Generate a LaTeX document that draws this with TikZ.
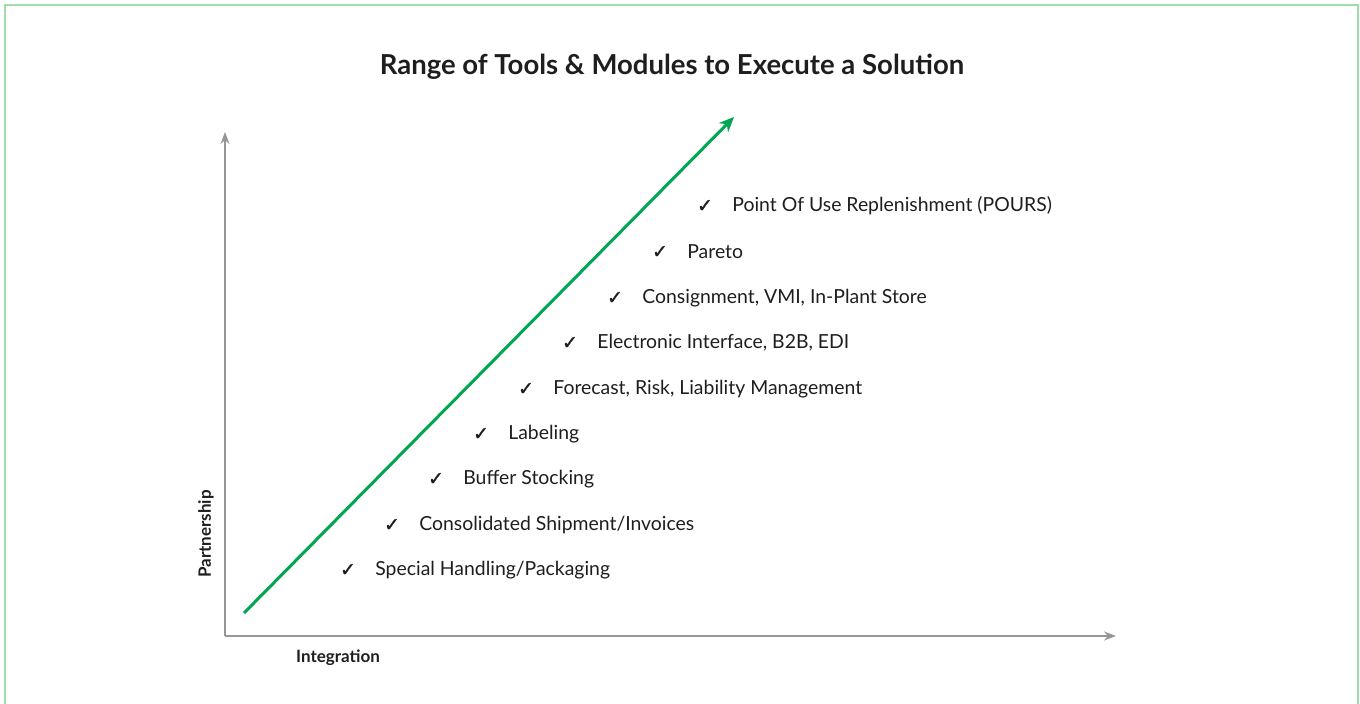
\documentclass[tikz,border=0pt]{standalone}
\usepackage{fontspec}
\setmainfont{Lato}
\newfontfamily\symbolfont[FakeBold=1.2]{DejaVu Sans}
\usepackage{tikz}
\usetikzlibrary{arrows.meta, positioning}
\definecolor{framegreen}{RGB}{160,220,172}
\definecolor{arrowgreen}{RGB}{0,166,81}
\definecolor{axisgray}{RGB}{150,150,150}
\definecolor{textdark}{RGB}{30,30,30}
\newcommand{\tick}{{\symbolfont\char"2713}}

\begin{document}
\begin{tikzpicture}[x=1pt, y=1pt, framestyle/.style = {draw=framegreen, line width=1.5pt}, axisstyle/.style = {draw=axisgray, line width=1.5pt, -{Stealth[length=12pt, width=9pt]}}, growthstyle/.style = {draw=arrowgreen, line width=3pt, -{Stealth[length=15pt, width=13pt]}}, checkstyle/.style = {inner sep=0pt, font=\fontsize{19}{19}\selectfont}, itemstyle/.style = {inner sep=0pt, anchor=west, font=\fontsize{19.4}{21}\selectfont}, axislabel/.style = {font=\fontsize{17}{19}\selectfont\bfseries}]
  \tikzstyle{every node}=[text=textdark]
  \useasboundingbox (0,0) rectangle (1360,704);

  % frame
  \draw[framestyle] (5,-2) -- (5,699) -- (1358,699) -- (1358,-2);

  % title
  \node[font=\fontsize{27.5}{32}\selectfont\bfseries] (title) at (672,637) {Range of Tools \& Modules to Execute a Solution};

  % axes
  \coordinate (origin) at (225,68);
  \coordinate (ytop) at (225,572);
  \coordinate (xend) at (1116,68);
  \draw[axisstyle] (origin) -- (ytop);
  \draw[axisstyle] (origin) -- (xend);
  \node[axislabel, rotate=90] (partnership) at (206,170) {Partnership};
  \node[axislabel] (integration) at (338,46) {Integration};

  % growth arrow
  \coordinate (growstart) at (244,91);
  \coordinate (growend) at (734,587);
  \draw[growthstyle] (growstart) -- (growend);

  % items
  \node[checkstyle] (chk1) at (348,134) {\tick};
  \node[itemstyle, right=19pt of chk1] (special) {Special Handling/Packaging};
  \node[checkstyle] (chk2) at (392,179) {\tick};
  \node[itemstyle, right=19pt of chk2] (consolidated) {Consolidated Shipment/Invoices};
  \node[checkstyle] (chk3) at (436,225) {\tick};
  \node[itemstyle, right=19pt of chk3] (buffer) {Buffer Stocking};
  \node[checkstyle] (chk4) at (481,270) {\tick};
  \node[itemstyle, right=19pt of chk4] (labeling) {Labeling};
  \node[checkstyle] (chk5) at (526,315) {\tick};
  \node[itemstyle, right=19pt of chk5] (forecast) {Forecast, Risk, Liability Management};
  \node[checkstyle] (chk6) at (570,361) {\tick};
  \node[itemstyle, right=19pt of chk6] (electronic) {Electronic Interface, B2B, EDI};
  \node[checkstyle] (chk7) at (615,406) {\tick};
  \node[itemstyle, right=19pt of chk7] (consignment) {Consignment, VMI, In-Plant Store};
  \node[checkstyle] (chk8) at (660,452) {\tick};
  \node[itemstyle, right=19pt of chk8] (pareto) {Pareto};
  \node[checkstyle] (chk9) at (705,498) {\tick};
  \node[itemstyle, right=19pt of chk9] (pours) {Point Of Use Replenishment (POURS)};

\end{tikzpicture}
\end{document}
